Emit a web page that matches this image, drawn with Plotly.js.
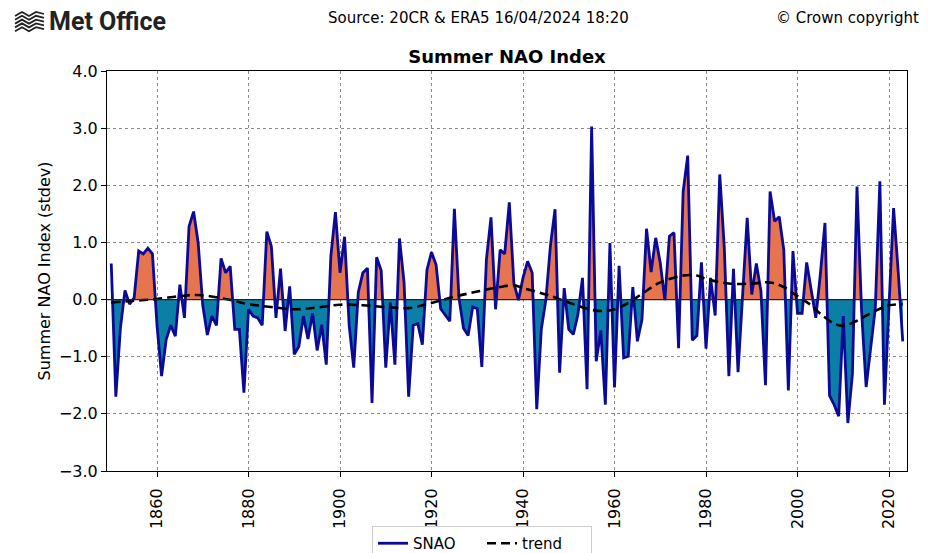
<!DOCTYPE html>
<html>
<head>
<meta charset="utf-8">
<script src="https://cdn.plot.ly/plotly-3.0.1.min.js"></script>
<style>html,body{margin:0;padding:0;background:#fff;}#chart{width:936px;height:553px;}</style>
</head>
<body>
<div id="chart"></div>
<script>
// ---- Data ----
const firstYear = 1850;
const snao = [
  0.63,-1.70,-0.50, 0.16,-0.08, 0.03, 0.85, 0.80, 0.90, 0.80,
 -0.45,-1.34,-0.70,-0.45,-0.64, 0.26,-0.32, 1.28, 1.54, 0.99,
 -0.10,-0.62,-0.29,-0.45, 0.72, 0.47, 0.58,-0.52,-0.52,-1.63,
 -0.17,-0.29,-0.32,-0.45, 1.19, 0.93,-0.32, 0.54,-0.55, 0.23,
 -0.96,-0.82,-0.29,-0.69,-0.24,-0.89,-0.44,-1.14, 0.76, 1.53,
  0.47, 1.10,-0.45,-1.19, 0.13, 0.47, 0.55,-1.81, 0.74, 0.51,
 -1.19,-0.05,-1.14, 1.07, 0.30,-1.70,-0.45,-0.42,-0.79, 0.52,
  0.83, 0.61,-0.16,-0.28,-0.38, 1.59, 0.03,-0.50,-0.63,-0.13,
 -0.16,-1.18, 0.70, 1.44,-0.17, 0.87, 0.80, 1.70, 0.29,-0.01,
  0.38, 0.67, 0.47,-1.92,-0.52, 0.00, 0.95, 1.58,-1.28, 0.20,
 -0.52,-0.61,-0.26, 0.38,-1.57, 3.03,-1.08,-0.54,-1.84, 0.99,
 -1.54, 0.59,-1.02,-0.99, 0.22,-0.73,-0.35, 1.24, 0.48, 1.08,
  0.64,-0.01, 1.11, 1.17,-0.85, 1.89, 2.52,-0.71,-0.63, 0.65,
 -0.86, 0.38,-0.28, 2.19, 0.90,-1.34, 0.54,-1.27, 0.05, 1.43,
  0.09, 0.63, 0.15,-1.50, 1.89, 1.37, 1.45, 0.87,-1.59, 0.85,
 -0.24,-0.24, 0.65, 0.20,-0.32, 0.45, 1.34,-1.68,-1.84,-2.04,
 -0.29,-2.16,-1.30, 1.98,-0.20,-1.53,-0.80,-0.15, 2.07,-1.84,
 -0.10, 1.60, 0.50,-0.73
];
const years = snao.map((_, i) => firstYear + i);

const trendYears = [1850,1855,1860,1865,1869,1875,1880,1885,1890,1895,1900,1905,1910,1915,1920,1925,1930,1935,1938,1940,1945,1950,1955,1958,1960,1963,1966,1970,1975,1978,1980,1985,1990,1994,1997,2000,2003,2005,2008,2010,2013,2015,2018,2020,2023];
const trendVals  = [-0.05,-0.02,0.01,0.06,0.08,0.01,-0.08,-0.13,-0.17,-0.14,-0.09,-0.10,-0.13,-0.15,-0.06,0.05,0.14,0.22,0.25,0.20,0.09,-0.05,-0.18,-0.20,-0.17,-0.06,0.10,0.30,0.42,0.42,0.36,0.28,0.28,0.30,0.22,0.06,-0.10,-0.25,-0.42,-0.46,-0.37,-0.28,-0.16,-0.10,-0.08];

const xTickVals = [1860,1880,1900,1920,1940,1960,1980,2000,2020];
const xTickText = ['1860','1880','1900','1920','1940','1960','1980','2000','2020'];
const yTickVals = [-3,-2,-1,0,1,2,3,4];

const titleText = 'Summer NAO Index';
const yTitle = 'Summer NAO Index (stdev)';
const sourceText = 'Source: 20CR &amp; ERA5 16/04/2024 18:20';
const copyText = '© Crown copyright';

// ---- Fill geometry: split at zero crossings ----
function splitFill(xs, ys) {
  const px = [], pos = [], neg = [];
  for (let i = 0; i < xs.length; i++) {
    if (i > 0) {
      const a = ys[i-1], b = ys[i];
      if ((a > 0 && b < 0) || (a < 0 && b > 0)) {
        const t = a / (a - b);
        px.push(xs[i-1] + t * (xs[i] - xs[i-1]));
        pos.push(0); neg.push(0);
      }
    }
    px.push(xs[i]);
    pos.push(Math.max(ys[i], 0));
    neg.push(Math.min(ys[i], 0));
  }
  return {px, pos, neg};
}
const f = splitFill(years, snao);

const FONT = 'DejaVu Sans, Liberation Sans, sans-serif';
const posColor = '#e6744f';
const negColor = '#0b7fa5';
const lineColor = '#0a0a96';

const traces = [
  {x: f.px, y: f.neg, mode: 'none', fill: 'tozeroy', fillcolor: negColor, showlegend: false, hoverinfo: 'skip'},
  {x: f.px, y: f.pos, mode: 'none', fill: 'tozeroy', fillcolor: posColor, showlegend: false, hoverinfo: 'skip'},
  {x: years, y: snao, mode: 'lines', name: 'SNAO', line: {color: lineColor, width: 2.8}},
  {x: trendYears, y: trendVals, mode: 'lines', name: 'trend', line: {color: 'black', width: 2.6, dash: '9px,5px', shape: 'spline'}}
];

// pixel -> paper helpers (plot area 107..907 x, 71..471 y)
const PL = 107, PR = 907, PT = 71, PB = 471;
const px2x = p => (p - PL) / (PR - PL);
const py2y = p => (PB - p) / (PB - PT);

// logo icon: stacked wavy strokes
const logoShapes = [];
for (let k = 0; k < 5; k++) {
  const y0 = 13 + k * 3.8;
  const x0 = 15;
  const pts = [[x0, y0 + 3], [x0 + 7, y0 - 1], [x0 + 14, y0 + 3], [x0 + 21, y0 - 1], [x0 + 29, y0 + 1]];
  let d = `M ${px2x(pts[0][0])},${py2y(pts[0][1])}`;
  for (let j = 1; j < pts.length; j++) d += ` L ${px2x(pts[j][0])},${py2y(pts[j][1])}`;
  logoShapes.push({type: 'path', xref: 'paper', yref: 'paper', path: d, line: {color: '#222', width: 1.8}, layer: 'above'});
}

const layout = {
  width: 936, height: 553,
  margin: {l: PL, r: 936 - PR, t: PT, b: 553 - PB, pad: 0, autoexpand: false},
  paper_bgcolor: 'white', plot_bgcolor: 'white',
  font: {family: FONT, color: 'black', size: 15},
  title: {text: '<b>' + titleText + '</b>', font: {family: FONT, size: 18, color: 'black'}, x: 0.5, xref: 'paper', xanchor: 'center', y: 1 - 57/553, yref: 'container', yanchor: 'middle'},
  xaxis: {
    automargin: false,
    range: [1849.07, 2023.93], tickmode: 'array', tickvals: xTickVals, ticktext: xTickText,
    tickangle: -90, ticks: 'outside', ticklen: 5, tickwidth: 1, tickcolor: 'black', ticklabelstandoff: 5,
    showgrid: true, gridcolor: '#8a8a8a', griddash: 'dot', gridwidth: 1,
    showline: true, mirror: true, linecolor: 'black', linewidth: 1, zeroline: false,
    tickfont: {family: FONT, size: 16, color: 'black'}
  },
  yaxis: {
    automargin: false,
    range: [-3, 4], tickmode: 'array', tickvals: yTickVals, tickformat: '.1f',
    ticks: 'outside', ticklen: 5, tickwidth: 1, tickcolor: 'black',
    showgrid: true, gridcolor: '#8a8a8a', griddash: 'dot', gridwidth: 1,
    showline: true, mirror: true, linecolor: 'black', linewidth: 1, zeroline: false,
    tickfont: {family: FONT, size: 16, color: 'black'},
    title: {text: yTitle, font: {family: FONT, size: 16, color: 'black'}, standoff: 4}
  },
  legend: {orientation: 'h', x: px2x(482), xanchor: 'center', xref: 'paper', y: 1 - 526/553, yref: 'container', yanchor: 'top',
    entrywidth: 64, entrywidthmode: 'pixels',
    bordercolor: '#cccccc', borderwidth: 1, bgcolor: 'white', font: {family: FONT, size: 15, color: 'black'}},
  shapes: [
    {type: 'line', xref: 'paper', yref: 'y', x0: 0, x1: 1, y0: 0, y1: 0, line: {color: '#222', width: 1.2}, layer: 'above'}
  ].concat(logoShapes),
  annotations: [
    {text: sourceText, xref: 'paper', yref: 'paper', x: px2x(478), y: py2y(18), xanchor: 'center', yanchor: 'middle', showarrow: false, font: {family: FONT, size: 15, color: 'black'}},
    {text: copyText, xref: 'paper', yref: 'paper', x: px2x(921), y: py2y(18), xanchor: 'right', yanchor: 'middle', showarrow: false, font: {family: FONT, size: 15, color: 'black'}},
    {text: '<b>Met Office</b>', xref: 'paper', yref: 'paper', x: px2x(47), y: py2y(21), xanchor: 'left', yanchor: 'middle', showarrow: false, font: {family: 'Roboto, Liberation Sans, sans-serif', size: 25, color: '#222'}}
  ],
  showlegend: true
};

Plotly.newPlot('chart', traces, layout, {staticPlot: true, displayModeBar: false});
</script>
</body>
</html>
